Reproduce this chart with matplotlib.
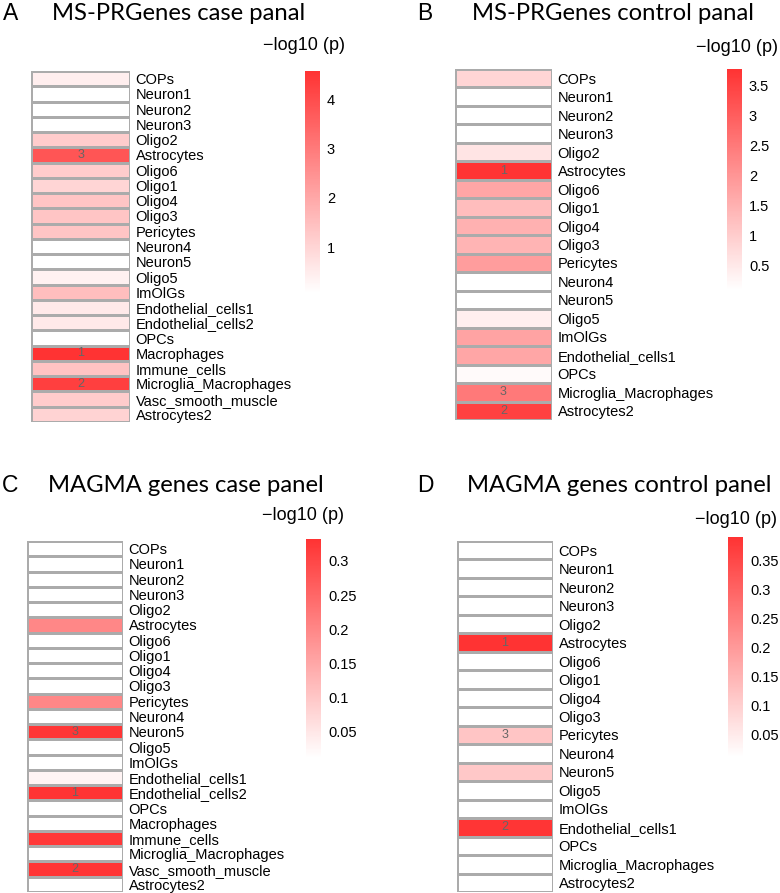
import numpy as np
import matplotlib
matplotlib.use("Agg")
import matplotlib.pyplot as plt
from matplotlib.colors import LinearSegmentedColormap, Normalize
from matplotlib.cm import ScalarMappable

# cell types per panel
rows_full = ["COPs", "Neuron1", "Neuron2", "Neuron3", "Oligo2", "Astrocytes", "Oligo6",
             "Oligo1", "Oligo4", "Oligo3", "Pericytes", "Neuron4", "Neuron5", "Oligo5",
             "ImOlGs", "Endothelial_cells1", "Endothelial_cells2", "OPCs", "Macrophages",
             "Immune_cells", "Microglia_Macrophages", "Vasc_smooth_muscle", "Astrocytes2"]
rows_ctrl = ["COPs", "Neuron1", "Neuron2", "Neuron3", "Oligo2", "Astrocytes", "Oligo6",
             "Oligo1", "Oligo4", "Oligo3", "Pericytes", "Neuron4", "Neuron5", "Oligo5",
             "ImOlGs", "Endothelial_cells1", "OPCs", "Microglia_Macrophages", "Astrocytes2"]

# -log10(p) values
vals_a = [0.45, 0.07, 0.07, 0.07, 1.2, 3.8, 1.2, 1.0, 1.35, 1.35, 1.35, 0.07, 0.07, 0.4,
          1.5, 0.55, 0.55, 0.08, 4.57, 1.4, 4.3, 1.2, 1.05]
vals_b = [0.85, 0.1, 0.1, 0.1, 0.6, 3.77, 1.7, 1.3, 1.5, 1.45, 1.85, 0.1, 0.1, 0.4,
          1.75, 1.7, 0.2, 2.5, 3.5]
vals_c = [0.012, 0.012, 0.012, 0.012, 0.012, 0.2, 0.012, 0.012, 0.012, 0.012, 0.2, 0.012,
          0.326, 0.012, 0.012, 0.03, 0.332, 0.012, 0.012, 0.322, 0.012, 0.329, 0.012]
vals_d = [0.012, 0.012, 0.012, 0.012, 0.012, 0.39, 0.012, 0.012, 0.012, 0.012, 0.12, 0.012,
          0.115, 0.012, 0.012, 0.385, 0.012, 0.012, 0.012]

# rank labels (top three)
ranks_a = {18: "1", 20: "2", 5: "3"}
ranks_b = {5: "1", 18: "2", 17: "3"}
ranks_c = {16: "1", 21: "2", 12: "3"}
ranks_d = {5: "1", 15: "2", 10: "3"}

letters = ["A", "B", "C", "D"]
titles = ["MS-PRGenes case panal", "MS-PRGenes control panal",
          "MAGMA genes case panel", "MAGMA genes control panel"]
cb_ticks = [[1, 2, 3, 4], [0.5, 1, 1.5, 2, 2.5, 3, 3.5],
            [0.05, 0.1, 0.15, 0.2, 0.25, 0.3], [0.05, 0.1, 0.15, 0.2, 0.25, 0.3, 0.35]]

W, H = 780, 893
cmap = LinearSegmentedColormap.from_list("wr", ["#FFFFFF", "#FF3333"], N=256)
lab_font = ["Liberation Sans", "DejaVu Sans"]

fig = plt.figure(figsize=(W / 100, H / 100), dpi=100)


def px_axes(x0, y0, x1, y1):
    return fig.add_axes([x0 / W, 1 - y1 / H, (x1 - x0) / W, (y1 - y0) / H])


def fmt(v):
    return ("%g" % v)


# pixel layout: heatmap box, colorbar box, letter x, title x, title y, legend title x, y
layout = [
    dict(hm=(31, 71, 130, 422), cb=(305, 71, 320, 293), lx=3, tx=52, ty=13, gx=263, gy=45),
    dict(hm=(455, 69, 552, 420), cb=(727, 69, 742, 290), lx=417, tx=472, ty=13, gx=696, gy=48),
    dict(hm=(27, 541, 123, 892), cb=(306, 539, 321, 758), lx=2, tx=48, ty=485, gx=262, gy=516),
    dict(hm=(457, 541, 553, 892), cb=(728, 537, 743, 757), lx=417, tx=467, ty=485, gx=695, gy=519),
]
panels = [(rows_full, vals_a, ranks_a), (rows_ctrl, vals_b, ranks_b),
          (rows_full, vals_c, ranks_c), (rows_ctrl, vals_d, ranks_d)]

for i, ((rows, vals, ranks), lay) in enumerate(zip(panels, layout)):
    v = np.array(vals).reshape(-1, 1)
    norm = Normalize(vmin=v.min(), vmax=v.max())

    ax = px_axes(*lay["hm"])
    ax.pcolormesh(v, cmap=cmap, norm=norm, edgecolors="#ABABAB", linewidth=0.9)
    ax.set_xlim(0, 1)
    ax.set_ylim(len(rows), 0)
    ax.set_xticks([])
    ax.yaxis.tick_right()
    ax.set_yticks(np.arange(len(rows)) + 0.5)
    ax.set_yticklabels(rows, fontsize=10.5, family=lab_font)
    ax.tick_params(axis="y", length=0, pad=4)
    for s in ax.spines.values():
        s.set_visible(False)
    for r, t in ranks.items():
        ax.text(0.5, r + 0.5, t, ha="center", va="center", fontsize=9,
                color="#666666", family=lab_font)

    cax = px_axes(*lay["cb"])
    cb = fig.colorbar(ScalarMappable(norm=norm, cmap=cmap), cax=cax)
    cb.outline.set_visible(False)
    cb.set_ticks(cb_ticks[i])
    cb.set_ticklabels([fmt(t) for t in cb_ticks[i]])
    cax.tick_params(length=0, pad=5, labelsize=10.5)
    for t in cax.get_yticklabels():
        t.set_family(lab_font)

    fig.text(lay["gx"] / W, 1 - lay["gy"] / H, "\u2212log10 (p)", fontsize=13,
             family=lab_font, ha="left", va="center")
    fig.text(lay["lx"] / W, 1 - lay["ty"] / H, letters[i], fontsize=16.5,
             family=lab_font, ha="left", va="center")
    fig.text(lay["tx"] / W, 1 - lay["ty"] / H, titles[i], fontsize=17.2,
             family=["Lato", "DejaVu Sans"], ha="left", va="center")

fig.savefig("out.png", dpi=100)
